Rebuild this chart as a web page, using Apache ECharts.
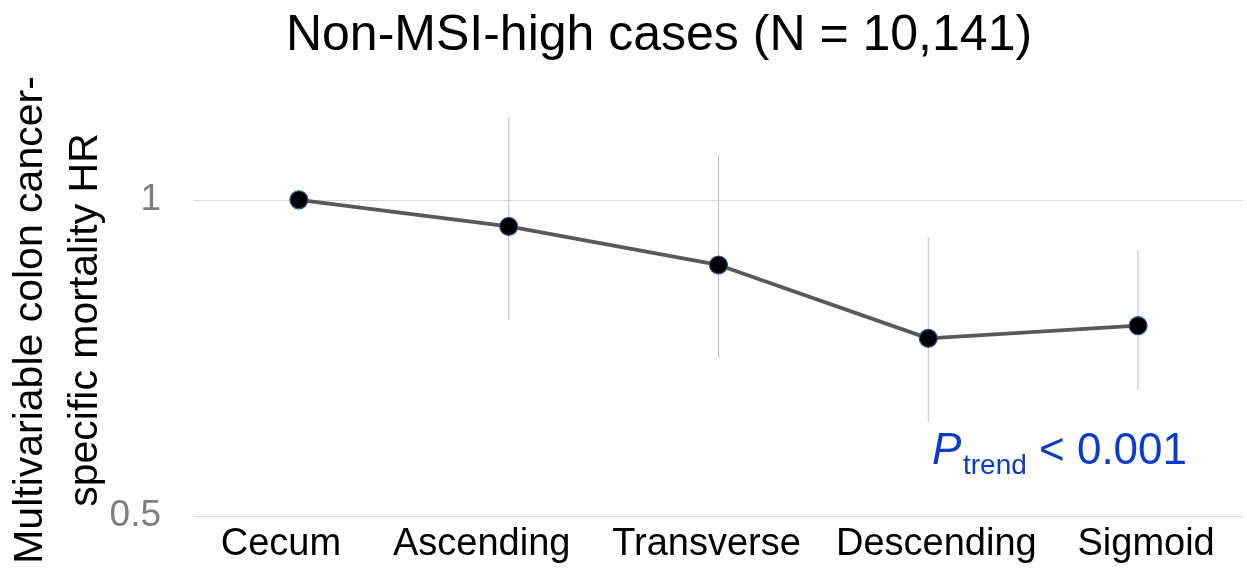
<!DOCTYPE html>
<html>
<head>
<meta charset="utf-8">
<style>html,body{margin:0;padding:0;background:#fff;}#chart{width:1247px;height:572px;}</style>
<script src="https://cdn.jsdelivr.net/npm/echarts@6/dist/echarts.min.js"></script>
</head>
<body>
<div id="chart"></div>
<script>
const categories = ['Cecum', 'Ascending', 'Transverse', 'Descending', 'Sigmoid'];
const hazardRatio = [1.0, 0.958, 0.897, 0.781, 0.801];
const ciLower = [null, 0.810, 0.750, 0.649, 0.699];
const ciUpper = [null, 1.131, 1.071, 0.941, 0.921];
const yMin = 0.5, yMax = 1.12, yInterval = 0.5;
const titleText = 'Non-MSI-high cases (N = 10,141)';
const yName = 'Multivariable colon cancer-\nspecific mortality HR';
const pLabel = 'P', pSub = 'trend', pValue = '< 0.001';

// layout: horizontal nudge of each category label (px), as in the original figure
const labelNudge = [-18, -27, -12, 8, 8];

const FONT = 'Liberation Sans, Arial, sans-serif';
const chart = echarts.init(document.getElementById('chart'), null, {renderer: 'canvas'});

const errData = categories.map((c, i) => [i, ciLower[i], ciUpper[i]]).filter(d => d[1] != null);

const richStyles = {};
labelNudge.forEach((n, i) => {
  richStyles['c' + i] = {
    fontFamily: FONT, fontSize: 38, color: '#000',
    padding: n < 0 ? [0, -2 * n, 0, 0] : [0, 0, 0, 2 * n]
  };
});

chart.setOption({
  animation: false,
  backgroundColor: '#ffffff',
  title: {
    text: titleText,
    left: 659, top: 0, textAlign: 'center',
    padding: [11, 0, 0, 0],
    textStyle: {fontFamily: FONT, fontSize: 50, fontWeight: 'normal', color: '#000'}
  },
  grid: {left: 194, right: 4, top: 124, bottom: 56, containLabel: false, outerBoundsMode: 'none'},
  xAxis: {
    type: 'category', data: categories, boundaryGap: true,
    axisLine: {show: false}, axisTick: {show: false},
    axisLabel: {fontFamily: FONT, fontSize: 38, color: '#000', margin: 10, interval: 0,
      formatter: (v, i) => '{c' + i + '|' + v + '}', rich: richStyles}
  },
  yAxis: {
    type: 'value', min: yMin, max: yMax, interval: yInterval,
    name: yName, nameLocation: 'middle', nameRotate: 90, nameGap: 81, nameMoveOverlap: false,
    nameTextStyle: {fontFamily: FONT, fontSize: 41, color: '#000', lineHeight: 55, align: 'center'},
    axisLine: {show: false}, axisTick: {show: false},
    axisLabel: {fontFamily: FONT, fontSize: 37, color: '#7f7f7f', margin: 33, showMaxLabel: false,
      formatter: v => (Math.abs(v - 1) < 1e-9 ? '1' : (Math.abs(v - 0.5) < 1e-9 ? '0.5' : ''))},
    splitLine: {show: true, showMaxLine: false, lineStyle: {color: '#d9d9d9', width: 1}}
  },
  series: [
    {
      type: 'custom', z: 1, clip: false,
      data: errData,
      renderItem: (params, api) => {
        const x = api.value(0);
        const lo = api.coord([x, api.value(1)]);
        const hi = api.coord([x, api.value(2)]);
        return {type: 'line', shape: {x1: lo[0], y1: lo[1], x2: hi[0], y2: hi[1]},
          style: {stroke: '#bfbfbf', lineWidth: 1}};
      }
    },
    {
      type: 'line', z: 3, data: hazardRatio,
      symbol: 'circle', symbolSize: 18,
      itemStyle: {color: '#000', borderColor: '#2f5597', borderWidth: 1.2},
      lineStyle: {color: '#595959', width: 3.8}
    }
  ],
  graphic: [
    {type: 'text', left: 932, top: 430, z: 10,
      style: {text: pLabel, fontFamily: FONT, fontSize: 44, fontStyle: 'italic', fill: '#0a3cc8'}},
    {type: 'text', left: 963, top: 452, z: 10,
      style: {text: pSub, fontFamily: FONT, fontSize: 28, fill: '#0a3cc8'}},
    {type: 'text', left: 1039, top: 430, z: 10,
      style: {text: pValue, fontFamily: FONT, fontSize: 44, fill: '#0a3cc8'}}
  ]
});
</script>
</body>
</html>
